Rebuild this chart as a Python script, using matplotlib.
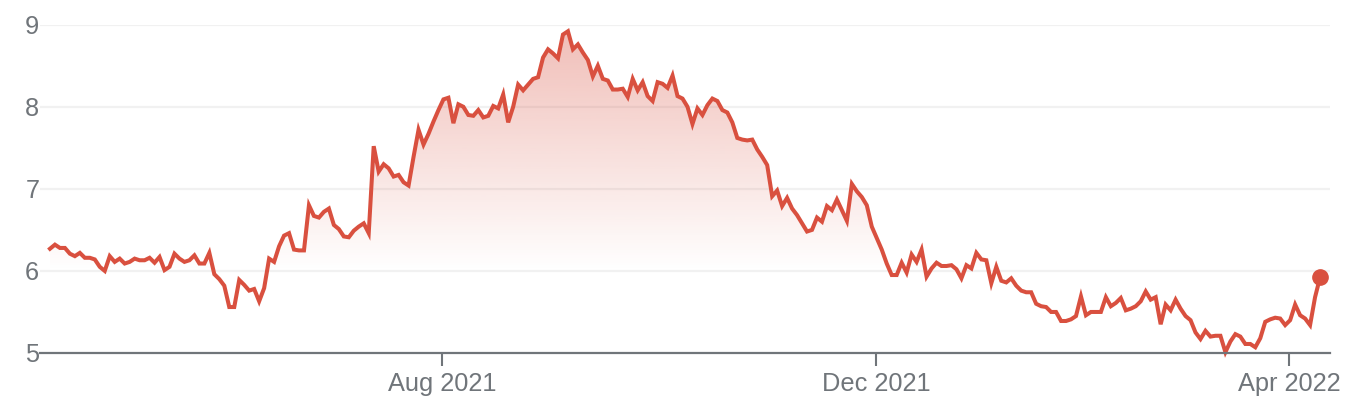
import numpy as np
import matplotlib
matplotlib.use("Agg")
import matplotlib.pyplot as plt
from matplotlib.patches import Polygon

# daily closes, one per trading day (about Apr 2021 .. Apr 2022)
prix = [6.27, 6.32, 6.28, 6.28, 6.21, 6.18, 6.22, 6.16, 6.16, 6.14,
        6.05, 6.00, 6.18, 6.11, 6.15, 6.09, 6.11, 6.15, 6.13, 6.13,
        6.16, 6.10, 6.17, 6.01, 6.05, 6.21, 6.15, 6.11, 6.13, 6.19,
        6.09, 6.09, 6.22, 5.96, 5.90, 5.82, 5.56, 5.56, 5.89, 5.83,
        5.76, 5.78, 5.63, 5.79, 6.15, 6.11, 6.30, 6.43, 6.46, 6.26,
        6.25, 6.25, 6.80, 6.67, 6.65, 6.72, 6.76, 6.56, 6.51, 6.42,
        6.41, 6.49, 6.54, 6.58, 6.46, 7.52, 7.21, 7.30, 7.25, 7.15,
        7.17, 7.08, 7.04, 7.39, 7.72, 7.54, 7.67, 7.82, 7.96, 8.09,
        8.11, 7.80, 8.03, 8.00, 7.90, 7.89, 7.96, 7.87, 7.89, 8.01,
        7.98, 8.15, 7.81, 8.00, 8.27, 8.20, 8.27, 8.34, 8.36, 8.60,
        8.70, 8.65, 8.59, 8.88, 8.92, 8.70, 8.76, 8.66, 8.57, 8.37,
        8.50, 8.34, 8.32, 8.21, 8.21, 8.22, 8.12, 8.34, 8.20, 8.30,
        8.13, 8.07, 8.30, 8.28, 8.23, 8.38, 8.13, 8.10, 8.00, 7.79,
        7.98, 7.90, 8.02, 8.10, 8.07, 7.96, 7.93, 7.81, 7.62, 7.60,
        7.59, 7.60, 7.48, 7.39, 7.29, 6.91, 6.98, 6.79, 6.89, 6.76,
        6.68, 6.58, 6.48, 6.50, 6.65, 6.60, 6.79, 6.74, 6.87, 6.74,
        6.61, 7.06, 6.97, 6.90, 6.80, 6.54, 6.40, 6.26, 6.09, 5.95,
        5.95, 6.10, 5.98, 6.20, 6.11, 6.26, 5.93, 6.03, 6.10, 6.06,
        6.06, 6.07, 6.02, 5.91, 6.07, 6.03, 6.22, 6.14, 6.13, 5.85,
        6.05, 5.88, 5.86, 5.91, 5.82, 5.76, 5.74, 5.74, 5.60, 5.57,
        5.56, 5.50, 5.50, 5.39, 5.39, 5.41, 5.45, 5.69, 5.46, 5.50,
        5.50, 5.50, 5.68, 5.57, 5.61, 5.67, 5.52, 5.54, 5.57, 5.63,
        5.75, 5.65, 5.68, 5.35, 5.59, 5.52, 5.65, 5.54, 5.45, 5.40,
        5.25, 5.17, 5.27, 5.20, 5.21, 5.21, 5.01, 5.14, 5.23, 5.20,
        5.11, 5.11, 5.07, 5.18, 5.38, 5.41, 5.43, 5.42, 5.34, 5.40,
        5.59, 5.46, 5.42, 5.34, 5.68, 5.92]

# trading-day index of the first session of each labelled month
mois_idx = [78.7, 165.9, 248.8]
mois_lbl = ["Aug 2021", "Dec 2021", "Apr 2022"]
y_ticks = [5, 6, 7, 8, 9]

rouge = "#d9503f"
gris = "#70757a"

x = np.arange(len(prix))
y = np.array(prix)
base = 5.0

fig = plt.figure(figsize=(13.72, 4.12), dpi=100)
ax = fig.add_axes([40 / 1372, 59 / 412, 1290 / 1372, 328.3 / 412])
ax.set_xlim(-2.0, 257.0)
ax.set_ylim(base, 9)

# grille
for v in y_ticks[1:]:
    ax.axhline(v, color="#f1f1f1", lw=1.6, zorder=0)

# remplissage en degrade sous la courbe (s'efface vers 6)
ymax = y.max()
bas_grad = 6.0
grad = np.zeros((256, 1, 4))
rgb = matplotlib.colors.to_rgb(rouge)
grad[:, 0, 0] = rgb[0]
grad[:, 0, 1] = rgb[1]
grad[:, 0, 2] = rgb[2]
grad[:, 0, 3] = np.linspace(0.0, 0.37, 256)
im = ax.imshow(grad, extent=[x[0], x[-1], bas_grad, ymax], origin="lower",
               aspect="auto", zorder=1, interpolation="bilinear")
verts = np.vstack([[x[0], base], np.column_stack([x, y]), [x[-1], base]])
poly = Polygon(verts, closed=True, facecolor="none", edgecolor="none")
ax.add_patch(poly)
im.set_clip_path(poly)

ax.plot(x, y, color=rouge, lw=2.9, solid_joinstyle="miter", zorder=3, clip_on=False)
ax.plot(x[-1], y[-1], "o", color=rouge, ms=11, zorder=4, clip_on=False)

for s in ["top", "right", "left"]:
    ax.spines[s].set_visible(False)
ax.spines["bottom"].set_color(gris)
ax.spines["bottom"].set_linewidth(1.6)
ax.spines["bottom"].set_zorder(5)

ax.set_yticks(y_ticks)
ax.set_yticklabels([str(v) for v in y_ticks])
ax.tick_params(axis="y", length=0, pad=0.5, labelsize=18.3, labelcolor=gris)
ax.set_xticks(mois_idx)
ax.set_xticklabels(mois_lbl)
ax.tick_params(axis="x", length=9.5, width=1.5, color=gris, pad=4,
               labelsize=18.3, labelcolor=gris)
for t in ax.get_xticklabels() + ax.get_yticklabels():
    t.set_fontfamily(["Liberation Sans", "DejaVu Sans"])

fig.savefig("out.png", dpi=100, facecolor="white")
